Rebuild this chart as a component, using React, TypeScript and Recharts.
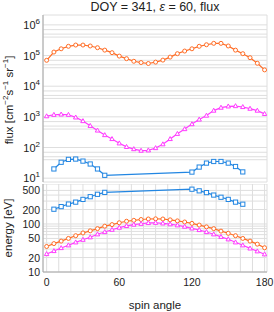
import React from "react";
import { LineChart, Line, XAxis, YAxis, CartesianGrid } from "recharts";

const angles = [0, 6, 12, 18, 24, 30, 36, 42, 48, 54, 60, 66, 72, 78, 84, 90, 96, 102, 108, 114, 120, 126, 132, 138, 144, 150, 156, 162, 168, 174, 180];
const fluxOrange = [7.0e4, 1.3e5, 1.66e5, 2.0e5, 2.2e5, 2.2e5, 2.05e5, 1.8e5, 1.5e5, 1.24e5, 9.6e4, 7.9e4, 6.5e4, 5.9e4, 5.5e4, 6.1e4, 7.1e4, 8.9e4, 1.15e5, 1.4e5, 1.66e5, 2.0e5, 2.25e5, 2.5e5, 2.5e5, 2.05e5, 1.5e5, 1.15e5, 8.5e4, 5.6e4, 3.4e4];
const fluxMagenta = [1050, 1170, 1200, 1170, 960, 730, 510, 360, 255, 190, 137, 105, 89, 79, 81, 96, 128, 190, 280, 400, 580, 820, 1100, 1600, 2000, 2200, 2250, 2100, 1850, 1600, 1250];
const energyOrange = [34, 39, 44, 50, 57, 65, 72, 80, 90, 97, 106, 114, 119, 124, 127, 128, 127, 122, 116, 110, 103, 95, 87, 80, 71, 64, 57, 50, 44, 38, 32];
const energyMagenta = [23.7, 27.4, 31.6, 36, 41.5, 47, 53, 61, 68, 76, 84, 91, 97, 101, 105, 106, 103, 99, 94, 88, 81, 75, 68, 61, 54, 48, 41.5, 36, 31, 27, 23.4];

const blueAngles = [6, 12, 18, 24, 30, 36, 42, 48, 120, 126, 132, 138, 144, 150, 156, 162];
const fluxBlue = [20, 33, 41, 42, 36, 29, 20, 12.4, 15.8, 23, 31, 35, 35, 31, 24, 16];
const energyBlue = [203, 230, 260, 285, 325, 370, 415, 455, 530, 490, 450, 400, 360, 325, 285, 258];

const xTicks = [0, 10, 20, 30, 40, 50, 60, 70, 80, 90, 100, 110, 120, 130, 140, 150, 160, 170, 180];
const xLabels = [0, 60, 120, 180];
const fluxTicks = [10, 40, 50, 70, 100, 400, 500, 700, 1000, 4000, 5000, 7000, 1e4, 4e4, 5e4, 7e4, 1e5, 4e5, 5e5, 7e5, 1e6];
const fluxLabels = [10, 100, 1000, 1e4, 1e5, 1e6];
const energyTicks = [10, 20, 30, 40, 50, 60, 70, 80, 90, 100, 200, 300, 400, 500];
const energyLabels = [10, 20, 50, 100, 200, 500];

const ORANGE = "#ff6d26";
const MAGENTA = "#ff3cff";
const BLUE = "#2286e2";
const FRAME = "#a6a6a6";
const GRID = "#dedede";
const FONT = "'Liberation Sans', Arial, sans-serif";

const mainData = angles.map((a, i) => ({
    angle: a,
    fo: fluxOrange[i],
    fm: fluxMagenta[i],
    eo: energyOrange[i],
    em: energyMagenta[i],
}));
const blueData = blueAngles.map((a, i) => ({ angle: a, fb: fluxBlue[i], eb: energyBlue[i] }));

function circleDot(color: string) {
    return (p: any) => (
        <circle key={`c-${p.index}`} cx={p.cx} cy={p.cy} r={2} fill="#fff" stroke={color} strokeWidth={1} />
    );
}
function triangleDot(color: string) {
    return (p: any) => (
        <path
            key={`t-${p.index}`}
            d={`M${p.cx},${p.cy - 2.4}L${p.cx + 2.2},${p.cy + 1.6}L${p.cx - 2.2},${p.cy + 1.6}Z`}
            fill="#fff"
            stroke={color}
            strokeWidth={1}
        />
    );
}
function squareDot(color: string) {
    return (p: any) => (
        <rect key={`s-${p.index}`} x={p.cx - 2.1} y={p.cy - 2.1} width={4.2} height={4.2} fill="#fff" stroke={color} strokeWidth={1} />
    );
}

const PowerTick = (p: any) => {
    const v = p.payload.value;
    if (!fluxLabels.includes(v)) return <g />;
    const e = Math.round(Math.log10(v));
    return (
        <text x={p.x} y={p.y + 4} textAnchor="end" fontSize={11} fill="#222" fontFamily={FONT}>
            10
            <tspan dy={-5} fontSize={8}>{e}</tspan>
        </text>
    );
};

const EnergyTick = (p: any) => {
    const v = p.payload.value;
    if (!energyLabels.includes(v)) return <g />;
    return (
        <text x={p.x} y={p.y + 4} textAnchor="end" fontSize={10.5} fill="#222" fontFamily={FONT}>
            {v}
        </text>
    );
};

const AngleTick = (p: any) => {
    const v = p.payload.value;
    if (!xLabels.includes(v)) return <g />;
    return (
        <text x={p.x} y={p.y} dy="0.75em" textAnchor="middle" fontSize={10.5} fill="#222" fontFamily={FONT}>
            {v}
        </text>
    );
};

export default function App() {
    return (
        <div style={{ position: "absolute", left: 0, top: 0, width: 274, height: 312, background: "#fff", fontFamily: FONT, color: "#222" }}>
            <div style={{ position: "absolute", left: 43, top: 0, width: 224, textAlign: "center", fontSize: 12.5, lineHeight: "14px", whiteSpace: "nowrap" }}>
                DOY = 341, <i>ε</i> = 60, flux
            </div>

            <div style={{ position: "absolute", left: 0, top: 0 }}>
                <LineChart width={274} height={187} margin={{ top: 15, right: 7, left: 0, bottom: 5 }}>
                    <CartesianGrid stroke={GRID} strokeWidth={1} yAxisId="l" />
                    <XAxis type="number" dataKey="angle" domain={[-3, 182]} ticks={xTicks} interval={0} height={0} tick={false} tickLine={false} axisLine={{ stroke: FRAME }} allowDataOverflow />
                    <XAxis xAxisId="top" orientation="top" type="number" dataKey="angle" domain={[-3, 182]} height={0} tick={false} tickLine={false} axisLine={{ stroke: FRAME }} />
                    <YAxis yAxisId="l" scale="log" domain={[7.5, 2.1e6]} ticks={fluxTicks} interval={0} width={43} tickSize={0} tickMargin={3} tickLine={false} tick={PowerTick} axisLine={{ stroke: FRAME }} allowDataOverflow />
                    <YAxis yAxisId="r" orientation="right" scale="log" domain={[7.5, 2.1e6]} width={0} tick={false} tickLine={false} axisLine={{ stroke: FRAME }} allowDataOverflow />
                    <Line yAxisId="l" data={mainData} dataKey="fo" stroke={ORANGE} strokeWidth={1.2} dot={circleDot(ORANGE)} isAnimationActive={false} />
                    <Line yAxisId="l" data={mainData} dataKey="fm" stroke={MAGENTA} strokeWidth={1.2} dot={triangleDot(MAGENTA)} isAnimationActive={false} />
                    <Line yAxisId="l" data={blueData} dataKey="fb" type="linear" stroke={BLUE} strokeWidth={1.2} dot={squareDot(BLUE)} isAnimationActive={false} />
                </LineChart>
            </div>

            <div style={{ position: "absolute", left: 0, top: 184 }}>
                <LineChart width={274} height={128} margin={{ top: 0, right: 7, left: 0, bottom: 0 }}>
                    <CartesianGrid stroke={GRID} strokeWidth={1} yAxisId="l" />
                    <XAxis type="number" dataKey="angle" domain={[-3, 182]} ticks={xTicks} interval={0} height={40} tickSize={0} tickMargin={6} tickLine={false} tick={AngleTick} axisLine={{ stroke: FRAME }} allowDataOverflow />
                    <XAxis xAxisId="top" orientation="top" type="number" dataKey="angle" domain={[-3, 182]} height={0} tick={false} tickLine={false} axisLine={{ stroke: FRAME }} />
                    <YAxis yAxisId="l" scale="log" domain={[10, 680]} ticks={energyTicks} interval={0} width={43} tickSize={0} tickMargin={3} tickLine={false} tick={EnergyTick} axisLine={{ stroke: FRAME }} allowDataOverflow />
                    <YAxis yAxisId="r" orientation="right" scale="log" domain={[10, 680]} width={0} tick={false} tickLine={false} axisLine={{ stroke: FRAME }} allowDataOverflow />
                    <Line yAxisId="l" data={blueData} dataKey="eb" stroke={BLUE} strokeWidth={1.2} dot={squareDot(BLUE)} isAnimationActive={false} />
                    <Line yAxisId="l" data={mainData} dataKey="eo" stroke={ORANGE} strokeWidth={1.2} dot={circleDot(ORANGE)} isAnimationActive={false} />
                    <Line yAxisId="l" data={mainData} dataKey="em" stroke={MAGENTA} strokeWidth={1.2} dot={triangleDot(MAGENTA)} isAnimationActive={false} />
                </LineChart>
            </div>

            <div style={{ position: "absolute", left: 155, top: 305, transform: "translate(-50%, -50%)", fontSize: 11.5, whiteSpace: "nowrap" }}>
                spin angle
            </div>
            <div style={{ position: "absolute", left: 8, top: 100, transform: "translate(-50%, -50%) rotate(-90deg)", fontSize: 11.5, whiteSpace: "nowrap" }}>
                flux [cm<sup style={{ fontSize: 8 }}>−2</sup>s<sup style={{ fontSize: 8 }}>−1</sup> sr<sup style={{ fontSize: 8 }}>−1</sup>]
            </div>
            <div style={{ position: "absolute", left: 8, top: 228, transform: "translate(-50%, -50%) rotate(-90deg)", fontSize: 11.5, whiteSpace: "nowrap" }}>
                energy [eV]
            </div>
        </div>
    );
}
